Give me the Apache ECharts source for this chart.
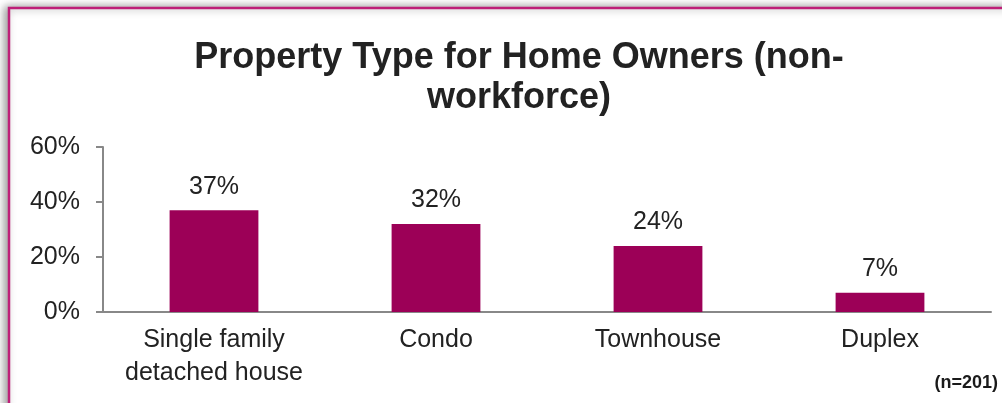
<!DOCTYPE html>
<html><head><meta charset="utf-8">
<script src="https://cdn.jsdelivr.net/npm/echarts@6/dist/echarts.min.js"></script>
<style>html,body{margin:0;padding:0;background:#fff;}#c{width:1002px;height:403px;}</style>
</head><body><div id="c"></div>
<script>
const categories = ['Single family\ndetached house', 'Condo', 'Townhouse', 'Duplex'];
const values = [37, 32, 24, 7];
const yTicks = [0, 20, 40, 60];
const titleText = 'Property Type for Home Owners (non-\nworkforce)';
const noteText = '(n=201)';

const FONT = '"Liberation Sans", Arial, sans-serif';
const chart = echarts.init(document.getElementById('c'));
chart.setOption({
  animation: false,
  graphic: [{
    type: 'rect', z: -1,
    shape: { x: 9, y: 8, width: 1010, height: 420 },
    style: { fill: '#fff', stroke: '#BE1F78', lineWidth: 2.5, shadowBlur: 9, shadowColor: 'rgba(0,0,0,0.4)', shadowOffsetX: -3, shadowOffsetY: 0 }
  }, {
    type: 'text', right: 4, top: 374,
    style: { text: noteText, font: 'bold 18px ' + FONT, fill: '#1a1a1a' }
  }],
  title: {
    text: titleText, left: 514, textAlign: 'center', top: 33,
    textStyle: { fontFamily: FONT, fontSize: 36, fontWeight: 'bold', color: '#222', lineHeight: 40 }
  },
  grid: { left: 103, right: 11, top: 147, bottom: 91, containLabel: false },
  xAxis: {
    type: 'category', data: categories,
    axisLine: { lineStyle: { color: '#888', width: 2 } },
    axisTick: { show: false },
    axisLabel: { interval: 0, fontFamily: FONT, fontSize: 25, color: '#222', lineHeight: 33, margin: 12 }
  },
  yAxis: {
    type: 'value', min: 0, max: 60, interval: 20,
    axisLine: { show: true, lineStyle: { color: '#888', width: 2 } },
    axisTick: { show: true, length: 7, lineStyle: { color: '#888', width: 2 } },
    splitLine: { show: false },
    axisLabel: { formatter: v => yTicks.includes(v) ? v + '%' : '', fontFamily: FONT, fontSize: 25, color: '#222', margin: 23 }
  },
  series: [{
    type: 'bar', data: values, barWidth: '40%',
    itemStyle: { color: '#9C0057' },
    label: { show: true, position: 'top', distance: 11, formatter: p => p.value + '%', fontFamily: FONT, fontSize: 25, color: '#222' }
  }]
});
</script></body></html>
